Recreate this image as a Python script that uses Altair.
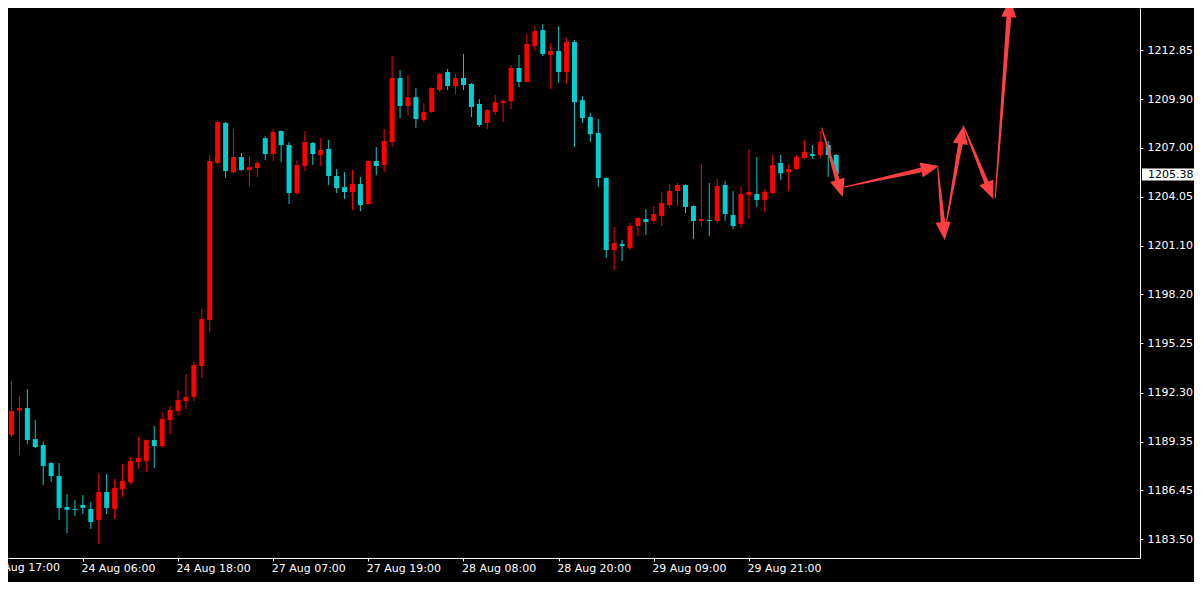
import math
import altair as alt
import pandas as pd

# ---------------- data ----------------
bar_index = list(range(-1, 105))

opens = [1190.65, 1189.76, 1191.21, 1191.37, 1189.51, 1189.15, 1188.07, 1187.29, 1185.44, 1185.32,
         1185.56, 1185.32, 1184.65, 1186.33, 1185.32, 1186.51, 1186.93, 1188.13, 1188.19, 1189.45,
         1189.09, 1190.65, 1191.19, 1191.79, 1192.04, 1193.89, 1196.66, 1206.07, 1208.47, 1205.52,
         1206.43, 1205.65, 1205.77, 1207.56, 1206.61, 1207.99, 1207.15, 1204.27, 1205.89, 1207.27,
         1206.55, 1206.91, 1205.29, 1204.63, 1204.33, 1204.81, 1203.61, 1206.19, 1205.95, 1207.33,
         1211.17, 1209.49, 1210.02, 1208.65, 1209.13, 1210.45, 1211.53, 1210.69, 1211.17, 1210.81,
         1209.61, 1208.47, 1209.13, 1209.66, 1209.78, 1211.77, 1210.93, 1213.09, 1214.04, 1212.55,
         1212.79, 1211.53, 1213.33, 1209.84, 1208.83, 1207.87, 1205.17, 1200.85, 1201.21, 1200.97,
         1202.29, 1202.71, 1202.59, 1202.89, 1203.55, 1204.39, 1204.75, 1203.49, 1202.59, 1202.65,
         1202.59, 1204.75, 1202.95, 1202.41, 1204.15, 1204.21, 1203.85, 1204.27, 1206.07, 1205.52,
         1205.71, 1206.37, 1206.61, 1206.55, 1207.15, 1206.55]
highs = [1190.77, 1192.99, 1192.10, 1192.51, 1190.65, 1189.33, 1188.13, 1188.07, 1186.21, 1185.86,
         1186.15, 1185.74, 1187.48, 1187.42, 1187.11, 1188.02, 1188.43, 1189.64, 1189.49, 1190.29,
         1191.13, 1191.49, 1192.45, 1193.41, 1194.13, 1197.31, 1206.55, 1208.65, 1208.53, 1208.11,
         1206.67, 1206.49, 1206.19, 1207.68, 1208.11, 1208.02, 1207.33, 1206.19, 1207.99, 1207.33,
         1207.56, 1207.45, 1205.71, 1205.52, 1205.65, 1205.23, 1206.23, 1207.03, 1208.11, 1212.49,
         1211.65, 1211.35, 1210.57, 1209.66, 1210.61, 1211.47, 1211.71, 1211.41, 1212.61, 1210.87,
         1209.90, 1209.30, 1210.15, 1209.90, 1211.94, 1212.55, 1213.81, 1214.28, 1214.40, 1213.27,
         1214.28, 1213.57, 1213.45, 1210.08, 1209.07, 1208.71, 1205.21, 1202.23, 1201.45, 1202.47,
         1202.81, 1203.31, 1203.49, 1204.33, 1204.81, 1204.87, 1204.79, 1203.53, 1206.01, 1204.87,
         1205.11, 1204.99, 1204.39, 1204.69, 1206.91, 1206.43, 1204.51, 1206.55, 1206.55, 1206.01,
         1206.55, 1207.45, 1207.15, 1207.99, 1207.39, 1206.61]
lows = [1189.64, 1189.64, 1188.55, 1189.21, 1188.97, 1186.75, 1186.93, 1184.65, 1183.87, 1184.89,
        1185.01, 1184.11, 1183.22, 1185.01, 1184.71, 1186.03, 1186.81, 1187.72, 1187.54, 1187.78,
        1188.97, 1189.82, 1190.95, 1191.31, 1191.79, 1193.17, 1195.93, 1206.01, 1205.17, 1205.46,
        1205.61, 1204.69, 1205.23, 1206.25, 1206.19, 1206.13, 1203.61, 1204.15, 1205.59, 1205.95,
        1205.89, 1204.75, 1204.27, 1203.91, 1203.24, 1203.18, 1203.57, 1205.34, 1205.52, 1207.03,
        1208.77, 1208.95, 1208.17, 1208.53, 1209.07, 1210.33, 1210.45, 1210.21, 1210.45, 1208.83,
        1208.23, 1208.11, 1208.95, 1208.53, 1209.31, 1210.63, 1210.89, 1212.79, 1212.49, 1210.51,
        1210.87, 1210.81, 1207.03, 1208.47, 1207.33, 1204.63, 1200.37, 1199.65, 1200.19, 1200.85,
        1201.69, 1201.75, 1202.41, 1202.29, 1203.37, 1203.49, 1203.07, 1201.51, 1202.23, 1201.69,
        1202.47, 1202.59, 1202.11, 1202.17, 1202.71, 1203.43, 1203.13, 1204.23, 1205.05, 1204.39,
        1205.65, 1206.31, 1206.31, 1206.37, 1205.23, 1205.17]
closes = [1189.76, 1191.19, 1191.37, 1189.45, 1189.03, 1187.90, 1187.29, 1185.38, 1185.26, 1185.26,
          1185.38, 1184.53, 1186.33, 1185.38, 1186.57, 1186.99, 1188.19, 1188.37, 1189.45, 1189.09,
          1190.71, 1191.25, 1191.85, 1192.04, 1193.95, 1196.71, 1206.19, 1208.53, 1205.59, 1206.43,
          1205.65, 1205.83, 1206.07, 1206.61, 1207.93, 1207.15, 1204.27, 1205.95, 1207.33, 1206.61,
          1206.85, 1205.29, 1204.57, 1204.33, 1204.81, 1203.55, 1206.19, 1205.89, 1207.39, 1211.17,
          1209.49, 1210.02, 1208.71, 1209.13, 1210.57, 1211.41, 1210.69, 1211.17, 1210.75, 1209.43,
          1208.35, 1209.25, 1209.72, 1209.78, 1211.77, 1210.93, 1213.21, 1213.98, 1212.61, 1212.79,
          1211.53, 1213.33, 1209.72, 1208.77, 1207.80, 1205.17, 1200.85, 1201.27, 1201.09, 1202.29,
          1202.77, 1202.53, 1203.01, 1203.67, 1204.39, 1204.75, 1203.43, 1202.59, 1202.71, 1202.59,
          1204.69, 1203.01, 1202.29, 1204.21, 1204.33, 1203.85, 1204.33, 1205.95, 1205.46, 1205.71,
          1206.43, 1206.73, 1206.49, 1207.33, 1206.55, 1205.38]

y_tick_values = [1183.50, 1186.45, 1189.35, 1192.30, 1195.25, 1198.20,
                 1201.10, 1204.05, 1207.00, 1209.90, 1212.85, 1215.80]
x_tick_index = [-3, 9, 21, 33, 45, 57, 69, 81, 93]
x_tick_labels = ["23 Aug 17:00", "24 Aug 06:00", "24 Aug 18:00", "27 Aug 07:00",
                 "27 Aug 19:00", "28 Aug 08:00", "28 Aug 20:00", "29 Aug 09:00",
                 "29 Aug 21:00"]
last_price = 1205.38

# hand-drawn arrows (bar index / price): tail and tip
arrow_tail_k = [102.19, 105.06, 116.81, 117.81, 120.06, 124.06]
arrow_tail_p = [1208.17, 1204.63, 1205.77, 1202.23, 1208.29, 1203.97]
arrow_tip_k = [104.81, 116.94, 117.69, 120.06, 123.81, 125.94]
arrow_tip_p = [1204.03, 1205.89, 1201.45, 1208.29, 1203.91, 1215.91]

# ---------------- geometry of the plot ----------------
W, H = 1132, 550
X0, X1 = 0.1875, 141.6875
Y0, Y1 = 1182.376, 1215.370
px_per_bar = W / (X1 - X0)
px_per_price = H / (Y1 - Y0)
HEAD_LEN = 18.0
HEAD_PATH = "M0,-1L0.8333,1L-0.8333,1Z"
ARROW_RED = "#ff4040"

# ---------------- tables ----------------
df = pd.DataFrame({"i": bar_index, "open": opens, "high": highs,
                   "low": lows, "close": closes})
df["dir"] = ["up" if c >= o else "down" for o, c in zip(opens, closes)]

shaft_rows, head_rows = [], []
for n in range(len(arrow_tail_k)):
    dx = (arrow_tip_k[n] - arrow_tail_k[n]) * px_per_bar
    dy = -(arrow_tip_p[n] - arrow_tail_p[n]) * px_per_price
    L = math.hypot(dx, dy)
    ux, uy = dx / L, dy / L
    hk = arrow_tip_k[n] - (HEAD_LEN / 2) * ux / px_per_bar
    hp = arrow_tip_p[n] + (HEAD_LEN / 2) * uy / px_per_price
    ang = math.degrees(math.atan2(dx, -dy)) % 360
    shaft_rows.append({"g": n, "o": 0, "k": arrow_tail_k[n], "p": arrow_tail_p[n], "w": 1.0})
    shaft_rows.append({"g": n, "o": 1, "k": hk, "p": hp, "w": 5.0})
    head_rows.append({"g": n, "k": hk, "p": hp, "ang": ang})
shafts = pd.DataFrame(shaft_rows)
heads = pd.DataFrame(head_rows)

price_df = pd.DataFrame({"price": [last_price]})

# time labels whose tick lies left of the visible plot (drawn as partial text)
edge_labels = pd.DataFrame({
    "i": [v for v in x_tick_index if v < X0],
    "label": [t for v, t in zip(x_tick_index, x_tick_labels) if v < X0],
})

# ---------------- scales & axes ----------------
FONT = "DejaVu Sans"
xscale = alt.Scale(domain=[X0, X1], nice=False, zero=False)
yscale = alt.Scale(domain=[Y0, Y1], nice=False, zero=False)

label_expr = " : ".join(f"datum.value == {v} ? '{t}'"
                        for v, t in zip(x_tick_index, x_tick_labels)) + " : ''"

xaxis = alt.Axis(values=x_tick_index, labelExpr=label_expr, orient="bottom",
                 labelAlign="left", labelBaseline="top", labelOffset=-2,
                 tickSize=3, labelPadding=1, labelColor="white", tickColor="white",
                 domainColor="white", labelFont=FONT, labelFontSize=11, grid=False,
                 labelFlush=False, labelOverlap=False, title=None)
yaxis = alt.Axis(values=y_tick_values, format=".2f", orient="right",
                 tickSize=3, labelPadding=4, labelColor="white", tickColor="white",
                 domainColor="white", labelFont=FONT, labelFontSize=11, grid=False,
                 labelFlush=False, labelOverlap=False, title=None)

color_scale = alt.Scale(domain=["up", "down"], range=["#ff0000", "#00ced1"])

base = alt.Chart(df)

wicks = base.mark_rule(strokeWidth=1, clip=True).encode(
    x=alt.X("i:Q", scale=xscale, axis=xaxis),
    y=alt.Y("low:Q", scale=yscale, axis=yaxis),
    y2="high:Q",
    color=alt.Color("dir:N", scale=color_scale, legend=None),
)

bodies = base.mark_bar(size=5, clip=True).encode(
    x=alt.X("i:Q", scale=xscale, axis=xaxis),
    y=alt.Y("open:Q", scale=yscale, axis=yaxis),
    y2="close:Q",
    color=alt.Color("dir:N", scale=color_scale, legend=None),
)

shaft_layer = alt.Chart(shafts).mark_trail(color=ARROW_RED, clip=True).encode(
    x=alt.X("k:Q", scale=xscale, axis=xaxis),
    y=alt.Y("p:Q", scale=yscale, axis=yaxis),
    detail="g:N",
    order="o:Q",
    size=alt.Size("w:Q", scale=None, legend=None),
)

head_layer = alt.Chart(heads).mark_point(
    shape=HEAD_PATH, filled=True, opacity=1, strokeWidth=0,
    size=HEAD_LEN * HEAD_LEN, color=ARROW_RED, clip=True
).encode(
    x=alt.X("k:Q", scale=xscale, axis=xaxis),
    y=alt.Y("p:Q", scale=yscale, axis=yaxis),
    angle=alt.Angle("ang:Q", scale=None),
)

edge_text = alt.Chart(edge_labels).mark_text(
    align="left", baseline="top", color="white", font=FONT, fontSize=11,
    dx=-2, clip=False
).encode(
    x=alt.X("i:Q", scale=xscale, axis=xaxis),
    y=alt.value(H + 4),
    text="label:N",
)

price_box = alt.Chart(price_df).transform_calculate(
    lo="datum.price - 0.36", hi="datum.price + 0.36"
).mark_rect(color="white", clip=False).encode(
    x=alt.value(1134), x2=alt.value(1190),
    y=alt.Y("lo:Q", scale=yscale, axis=yaxis), y2="hi:Q",
)

price_text = alt.Chart(price_df).mark_text(
    align="left", baseline="middle", color="black", font=FONT, fontSize=11, clip=False
).encode(
    x=alt.value(1140),
    y=alt.Y("price:Q", scale=yscale, axis=yaxis),
    text=alt.Text("price:Q", format=".2f"),
)

chart = alt.layer(wicks, bodies, shaft_layer, head_layer, edge_text,
                  price_box, price_text).properties(
    width=W, height=H,
    autosize=alt.AutoSizeParams(type="none"),
    padding={"left": 0, "top": 0, "right": 54, "bottom": 24},
    background="#000000",
).configure_view(strokeWidth=0)

chart.save("out.html", embed_options={"renderer": "svg", "actions": False})
